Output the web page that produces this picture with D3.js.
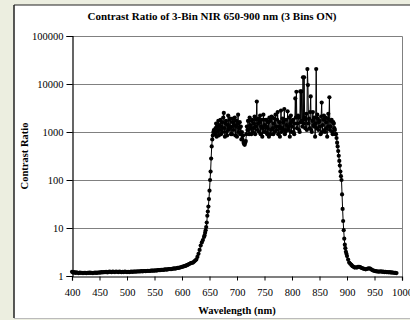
<!DOCTYPE html>
<html>
<head>
<meta charset="utf-8">
<script src="https://cdn.jsdelivr.net/npm/d3@7"></script>
<style>
  html, body { margin: 0; padding: 0; background: #eceee0; }
  svg { display: block; }
  text { font-family: "Liberation Serif", "Times New Roman", serif; fill: #000; }
</style>
</head>
<body>
<svg id="chart" width="410" height="320"></svg>
<script>
// wavelength in nm (2 nm steps outside the band, 1 nm steps across it)
var wavelength = [
    400, 402, 404, 406, 408, 410, 412, 414, 416, 418,
    420, 422, 424, 426, 428, 430, 432, 434, 436, 438,
    440, 442, 444, 446, 448, 450, 452, 454, 456, 458,
    460, 462, 464, 466, 468, 470, 472, 474, 476, 478,
    480, 482, 484, 486, 488, 490, 492, 494, 496, 498,
    500, 502, 504, 506, 508, 510, 512, 514, 516, 518,
    520, 522, 524, 526, 528, 530, 532, 534, 536, 538,
    540, 542, 544, 546, 548, 550, 552, 554, 556, 558,
    560, 562, 564, 566, 568, 570, 572, 574, 576, 578,
    580, 582, 584, 586, 588, 590, 592, 594, 596, 598,
    600, 602, 604, 606, 608, 610, 612, 614, 616, 618,
    620, 622, 624, 626, 628, 630, 632, 634, 636, 638,
    640, 641, 642, 643, 644, 645, 646, 647, 648, 649,
    650, 651, 652, 653, 654, 655, 656, 657, 658, 659,
    660, 661, 662, 663, 664, 665, 666, 667, 668, 669,
    670, 671, 672, 673, 674, 675, 676, 677, 678, 679,
    680, 681, 682, 683, 684, 685, 686, 687, 688, 689,
    690, 691, 692, 693, 694, 695, 696, 697, 698, 699,
    700, 701, 702, 703, 704, 705, 706, 707, 708, 709,
    710, 711, 712, 713, 714, 715, 716, 717, 718, 719,
    720, 721, 722, 723, 724, 725, 726, 727, 728, 729,
    730, 731, 732, 733, 734, 735, 736, 737, 738, 739,
    740, 741, 742, 743, 744, 745, 746, 747, 748, 749,
    750, 751, 752, 753, 754, 755, 756, 757, 758, 759,
    760, 761, 762, 763, 764, 765, 766, 767, 768, 769,
    770, 771, 772, 773, 774, 775, 776, 777, 778, 779,
    780, 781, 782, 783, 784, 785, 786, 787, 788, 789,
    790, 791, 792, 793, 794, 795, 796, 797, 798, 799,
    800, 801, 802, 803, 804, 805, 806, 807, 808, 809,
    810, 811, 812, 813, 814, 815, 816, 817, 818, 819,
    820, 821, 822, 823, 824, 825, 826, 827, 828, 829,
    830, 831, 832, 833, 834, 835, 836, 837, 838, 839,
    840, 841, 842, 843, 844, 845, 846, 847, 848, 849,
    850, 851, 852, 853, 854, 855, 856, 857, 858, 859,
    860, 861, 862, 863, 864, 865, 866, 867, 868, 869,
    870, 871, 872, 873, 874, 875, 876, 877, 878, 879,
    880, 881, 882, 883, 884, 885, 886, 887, 888, 889,
    890, 891, 892, 893, 894, 895, 896, 897, 898, 899,
    900, 902, 904, 906, 908, 910, 912, 914, 916, 918,
    920, 922, 924, 926, 928, 930, 932, 934, 936, 938,
    940, 942, 944, 946, 948, 950, 952, 954, 956, 958,
    960, 962, 964, 966, 968, 970, 972, 974, 976, 978,
    980, 982, 984, 986, 988, 990
];

// contrast ratio, one value per wavelength above
var contrastRatio = [
    1.22, 1.18, 1.20, 1.16, 1.19, 1.17, 1.15, 1.18, 1.16, 1.17,
    1.15, 1.17, 1.16, 1.15, 1.17, 1.16, 1.18, 1.16, 1.17, 1.15,
    1.17, 1.18, 1.16, 1.18, 1.17, 1.19, 1.18, 1.20, 1.19, 1.21,
    1.20, 1.22, 1.19, 1.21, 1.23, 1.22, 1.20, 1.23, 1.22, 1.21,
    1.24, 1.22, 1.21, 1.23, 1.22, 1.20, 1.22, 1.21, 1.23, 1.22,
    1.21, 1.22, 1.21, 1.22, 1.23, 1.22, 1.23, 1.24, 1.23, 1.24,
    1.25, 1.24, 1.25, 1.26, 1.25, 1.26, 1.27, 1.26, 1.27, 1.28,
    1.27, 1.28, 1.29, 1.30, 1.29, 1.30, 1.31, 1.30, 1.32, 1.33,
    1.32, 1.34, 1.35, 1.34, 1.36, 1.37, 1.36, 1.38, 1.39, 1.40,
    1.39, 1.41, 1.42, 1.44, 1.43, 1.45, 1.47, 1.48, 1.50, 1.52,
    1.55, 1.57, 1.60, 1.62, 1.66, 1.70, 1.75, 1.80, 1.86, 1.88,
    1.9, 2.0, 2.1, 2.2, 2.5, 2.9, 3.5, 4.3, 5.0, 5.6,
    6.5, 7.0, 8.0, 9.0, 10.5, 13, 18, 22, 28, 40,
    60, 100, 150, 280, 500, 700, 850, 1000, 1100, 1000,
    900, 1200, 1500, 800, 1300, 1000, 1700, 850, 1400, 1100,
    1800, 900, 1300, 1600, 1000, 2000, 2500, 1200, 800, 1500,
    1700, 1000, 850, 1400, 2200, 1100, 1200, 1800, 1900, 900,
    1300, 900, 1600, 1900, 1100, 1400, 2000, 850, 1300, 1700,
    800, 1500, 2300, 1000, 1200, 1600, 900, 1300, 700, 1000,
    700, 850, 600, 560, 540, 600, 650, 900, 1300, 1100,
    1700, 1100, 900, 2000, 1400, 1200, 900, 1700, 1800, 1000,
    1200, 1500, 2100, 900, 1300, 1800, 4300, 1100, 1500, 1900,
    1000, 1600, 2200, 900, 1300, 1800, 800, 1200, 2300, 1000,
    1400, 1800, 1000, 1300, 1800, 900, 1200, 1600, 800, 2000,
    1700, 900, 1100, 2100, 2000, 1200, 900, 1500, 1900, 1000,
    2300, 1300, 1100, 1800, 2600, 900, 1300, 1600, 800, 1200,
    2800, 1000, 1200, 1900, 1600, 1100, 3000, 900, 1000, 1800,
    1400, 1100, 2700, 1300, 1100, 2000, 800, 1500, 2200, 1000,
    1300, 1700, 1800, 1000, 900, 1500, 5000, 2000, 6900, 1200,
    1500, 2200, 2000, 1100, 1000, 7000, 1600, 7000, 1700, 1300,
    13800, 1500, 13800, 2000, 1200, 1800, 2400, 1100, 20500, 9500,
    1500, 1900, 1200, 2600, 5500, 1100, 1000, 1700, 2600, 1400,
    1300, 2000, 800, 1500, 20500, 1200, 2300, 1900, 1100, 1600,
    1700, 1300, 900, 2100, 4100, 1000, 1400, 1800, 2200, 1100,
    1000, 2000, 1600, 1200, 800, 1900, 2400, 1300, 5300, 1100,
    1300, 1700, 1800, 1000, 900, 1600, 1500, 1200, 1100, 900,
    900, 750, 600, 500, 400, 320, 250, 200, 150, 120,
    100, 50, 25, 14, 9, 6, 4.5, 3.8, 3.2, 2.9,
    2.6, 2.2, 1.9, 1.8, 1.7, 1.6, 1.55, 1.5, 1.52, 1.5,
    1.55, 1.56, 1.53, 1.48, 1.45, 1.42, 1.40, 1.38, 1.40, 1.43,
    1.45, 1.42, 1.38, 1.33, 1.30, 1.28, 1.26, 1.25, 1.24, 1.23,
    1.24, 1.25, 1.22, 1.23, 1.21, 1.22, 1.20, 1.21, 1.19, 1.20,
    1.18, 1.19, 1.17, 1.17, 1.16, 1.15
];

var xTicks = [400, 450, 500, 550, 600, 650, 700, 750, 800, 850, 900, 950, 1000];
var yTicks = [1, 10, 100, 1000, 10000, 100000];
var gridValues = [10, 100, 1000, 10000];

var svg = d3.select("#chart");
var margin = { top: 36, right: 8, bottom: 44, left: 72 };
var plotRight = 402, plotBottom = 276;

// white chart panel with inset border
svg.append("rect")
    .attr("x", 14).attr("y", 5)
    .attr("width", 400).attr("height", 313)
    .attr("fill", "#fff");
svg.append("line").attr("x1", 14).attr("x2", 14).attr("y1", 5).attr("y2", 318)
    .attr("stroke", "#222").attr("stroke-width", 1.5);
svg.append("line").attr("x1", 14).attr("x2", 410).attr("y1", 5).attr("y2", 5)
    .attr("stroke", "#222").attr("stroke-width", 1.2);
svg.append("line").attr("x1", 14).attr("x2", 410).attr("y1", 318.5).attr("y2", 318.5)
    .attr("stroke", "#bbb").attr("stroke-width", 1);

var xScale = d3.scaleLinear().domain([400, 1000]).range([margin.left, plotRight]);
var yScale = d3.scaleLog().domain([1, 100000]).range([plotBottom, margin.top]);

// gridlines
svg.append("g").selectAll("line").data(gridValues).enter().append("line")
    .attr("x1", margin.left).attr("x2", plotRight)
    .attr("y1", function (d) { return Math.round(yScale(d)) + 0.5; })
    .attr("y2", function (d) { return Math.round(yScale(d)) + 0.5; })
    .attr("stroke", "#808080").attr("stroke-width", 1);

// plot frame (top and right)
svg.append("path")
    .attr("d", "M" + margin.left + "," + (margin.top + 0.5) + "H" + (plotRight + 0.5) + "V" + plotBottom)
    .attr("fill", "none").attr("stroke", "#808080").attr("stroke-width", 1);

// data
var points = wavelength.map(function (w, i) { return { x: w, y: contrastRatio[i] }; });

var line = d3.line()
    .x(function (d) { return xScale(d.x); })
    .y(function (d) { return yScale(d.y); });

svg.append("path").datum(points)
    .attr("d", line)
    .attr("fill", "none")
    .attr("stroke", "#000")
    .attr("stroke-width", 1);

svg.append("g").selectAll("circle").data(points).enter().append("circle")
    .attr("cx", function (d) { return xScale(d.x); })
    .attr("cy", function (d) { return yScale(d.y); })
    .attr("r", 2.1)
    .attr("fill", "#000");

// axes
var yAxis = d3.axisLeft(yScale).tickValues(yTicks).tickFormat(d3.format("d")).tickSize(6).tickPadding(3);
var gy = svg.append("g").attr("transform", "translate(" + (margin.left + 0.5) + ",0)").call(yAxis);
var xAxis = d3.axisBottom(xScale).tickValues(xTicks).tickFormat(d3.format("d")).tickSize(4).tickPadding(8);
var gx = svg.append("g").attr("transform", "translate(0," + (plotBottom + 0.5) + ")").call(xAxis);

[gx, gy].forEach(function (g)
{
    g.select(".domain").attr("stroke", "#000").attr("stroke-width", 1.2);
    g.selectAll(".tick line").attr("stroke", "#000");
    g.selectAll(".tick text").style("font-family", "'Liberation Serif', serif").style("font-size", "10.5px").attr("fill", "#000");
});

// titles
svg.append("text")
    .attr("x", 212).attr("y", 20)
    .attr("text-anchor", "middle")
    .style("font-size", "11px").style("font-weight", "bold")
    .text("Contrast Ratio of 3-Bin NIR 650-900 nm (3 Bins ON)");

svg.append("text")
    .attr("x", 237).attr("y", 314)
    .attr("text-anchor", "middle")
    .style("font-size", "10.5px").style("font-weight", "bold")
    .text("Wavelength (nm)");

svg.append("text")
    .attr("transform", "translate(28,156) rotate(-90)")
    .attr("text-anchor", "middle")
    .style("font-size", "10.5px").style("font-weight", "bold")
    .text("Contrast Ratio");
</script>
</body>
</html>
